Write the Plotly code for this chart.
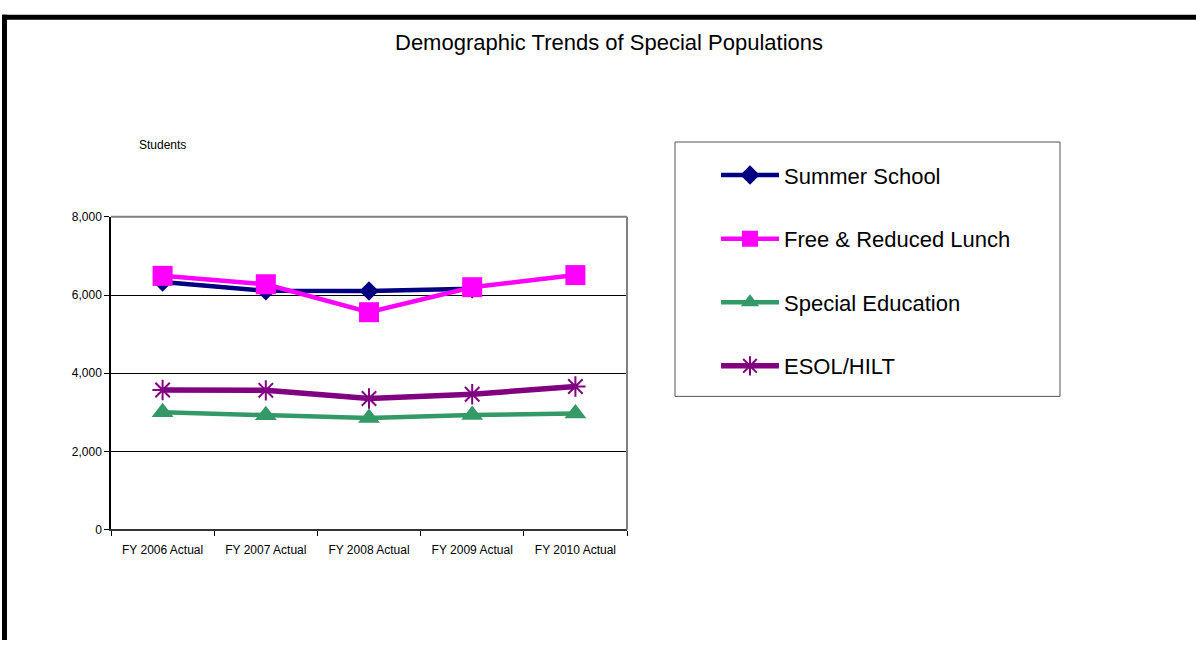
import plotly.graph_objects as go

# Fiscal years on the category axis
years = ["FY 2006 Actual", "FY 2007 Actual", "FY 2008 Actual", "FY 2009 Actual", "FY 2010 Actual"]

# Student counts per population
summer_school = [6330, 6110, 6100, 6160, None]
free_reduced_lunch = [6490, 6275, 5560, 6200, 6510]
special_education = [3000, 2920, 2850, 2930, 2970]
esol_hilt = [3570, 3560, 3350, 3460, 3660]

y_ticks = [0, 2000, 4000, 6000, 8000]

W, H = 1196, 647
FONT = "Liberation Sans, Arial, sans-serif"


def px_x(v):
    return v / W


def px_y(v):
    return 1 - v / H


series = [
    ("Summer School", summer_school, "#000080", "diamond", 15, 4.5, None, "legend"),
    ("Free & Reduced Lunch", free_reduced_lunch, "#FF00FF", "square", 20, 4.5, None, "legend2"),
    ("Special Education", special_education, "#339966", "triangle-up", 19, 4.5, None, "legend3"),
    ("ESOL/HILT", esol_hilt, "#800080", "asterisk-open", 17, 5.5, 2, "legend4"),
]

fig = go.Figure()
for name, vals, color, symbol, size, lw, mlw, leg in series:
    marker = dict(symbol=symbol, size=size, color=color)
    if mlw:
        marker["line"] = dict(color=color, width=mlw)
    fig.add_trace(go.Scatter(
        x=years, y=vals, name=name, mode="lines+markers",
        line=dict(color=color, width=lw), marker=marker,
        legend=leg, connectgaps=False,
    ))

legend_rows = [172, 237, 302, 367]
legend_common = dict(
    x=px_x(716), xanchor="left", yanchor="middle",
    bgcolor="rgba(0,0,0,0)", borderwidth=0,
    font=dict(family=FONT, size=22, color="#000000"),
    itemwidth=58,
)

fig.update_layout(
    width=W, height=H,
    margin=dict(l=0, r=0, t=0, b=0),
    paper_bgcolor="#FFFFFF", plot_bgcolor="#FFFFFF",
    showlegend=True,
    legend=dict(y=px_y(legend_rows[0]), **legend_common),
    legend2=dict(y=px_y(legend_rows[1]), **legend_common),
    legend3=dict(y=px_y(legend_rows[2]), **legend_common),
    legend4=dict(y=px_y(legend_rows[3]), **legend_common),
    xaxis=dict(
        domain=[px_x(111), px_x(627)],
        type="category", tickson="boundaries",
        range=[-0.5, len(years) - 0.5], autorange=False,
        ticks="outside", ticklen=5, tickcolor="#000000", tickwidth=1,
        ticklabelstandoff=8,
        showgrid=False, zeroline=False,
        showline=True, linecolor="#333333", linewidth=2,
        tickfont=dict(family=FONT, size=12, color="#000000"),
    ),
    yaxis=dict(
        domain=[px_y(534), px_y(214.5)],
        range=[0, 8000], tickvals=y_ticks, tickformat=",",
        ticks="outside", ticklen=5, tickcolor="#000000", tickwidth=1,
        showgrid=True, gridcolor="#000000", gridwidth=1,
        zeroline=False,
        showline=True, linecolor="#000000", linewidth=1.5,
        tickfont=dict(family=FONT, size=12, color="#000000"),
    ),
    annotations=[
        dict(text="Demographic Trends of Special Populations", xref="paper", yref="paper",
             x=px_x(609), y=px_y(36), xanchor="center", yanchor="middle", showarrow=False,
             font=dict(family=FONT, size=22, color="#000000")),
        dict(text="Students", xref="paper", yref="paper",
             x=px_x(162), y=px_y(141), xanchor="center", yanchor="middle", showarrow=False,
             font=dict(family=FONT, size=12, color="#000000")),
    ],
    shapes=[
        # plot-area frame: grey top and right edges
        dict(type="line", xref="x domain", yref="y domain", x0=0, x1=1, y0=1, y1=1,
             line=dict(color="#808080", width=2)),
        dict(type="line", xref="x domain", yref="y domain", x0=1, x1=1, y0=0, y1=1,
             line=dict(color="#808080", width=2)),
        # legend box
        dict(type="rect", xref="paper", yref="paper",
             x0=px_x(675), x1=px_x(1060), y0=px_y(398), y1=px_y(138),
             line=dict(color="#555555", width=1), fillcolor="rgba(0,0,0,0)", layer="below"),
        # outer chart frame (top and left edges)
        dict(type="rect", xref="paper", yref="paper",
             x0=px_x(2), x1=1, y0=px_y(13), y1=px_y(8),
             line=dict(width=0), fillcolor="#000000"),
        dict(type="rect", xref="paper", yref="paper",
             x0=px_x(2), x1=px_x(7), y0=0, y1=px_y(8),
             line=dict(width=0), fillcolor="#000000"),
    ],
)

# place the chart flush with the page's top-left corner
fig.write_html("out.html", post_script="document.body.style.margin='0';")
